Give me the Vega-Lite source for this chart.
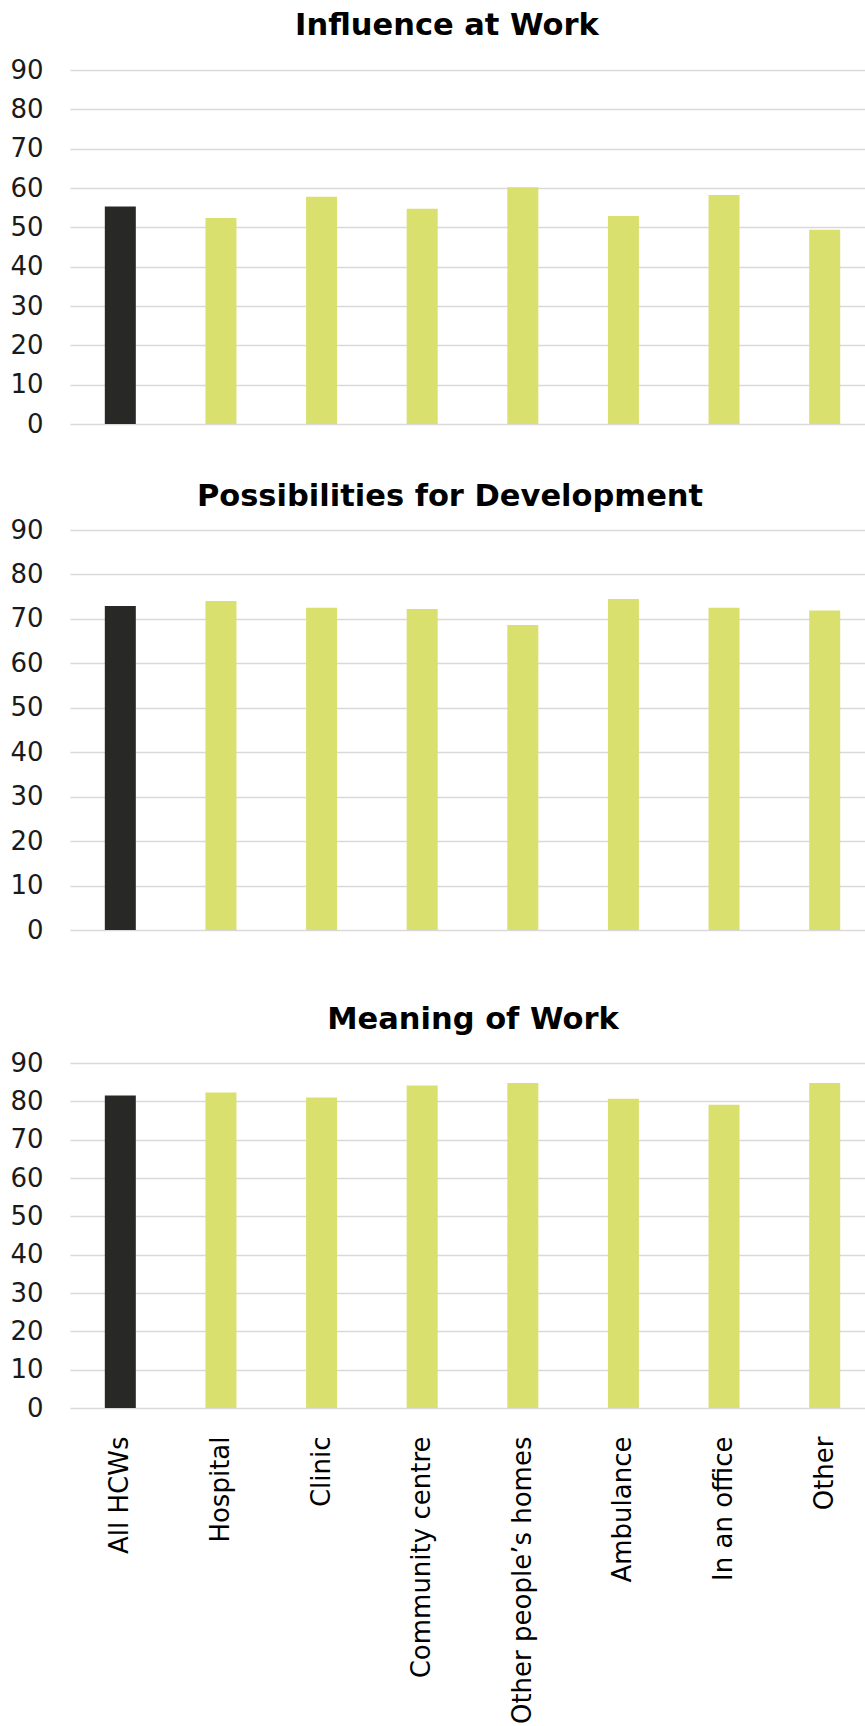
{
  "$schema": "https://vega.github.io/schema/vega-lite/v6.json",
  "background": "white",
  "padding": {"left": 9, "top": 11, "right": 0, "bottom": 0},
  "spacing": 20,
  "config": {
    "font": "DejaVu Sans",
    "view": {"stroke": null},
    "axisY": {
      "labelFont": "DejaVu Sans",
      "labelFontSize": 26,
      "labelColor": "#1a1a1a",
      "labelPadding": 27,
      "ticks": false,
      "tickSize": 0,
      "domain": false,
      "grid": true,
      "gridColor": "#d9d9d9",
      "gridWidth": 1.5,
      "title": null
    },
    "title": {
      "font": "DejaVu Sans",
      "fontSize": 30.5,
      "fontWeight": "bold",
      "color": "#000000",
      "anchor": "middle",
      "baseline": "alphabetic"
    }
  },
  "datasets": {
    "d": [
      {"panel": "Influence at Work", "category": "All HCWs", "group": "all", "value": 55.3},
      {"panel": "Influence at Work", "category": "Hospital", "group": "loc", "value": 52.4},
      {"panel": "Influence at Work", "category": "Clinic", "group": "loc", "value": 57.8},
      {"panel": "Influence at Work", "category": "Community centre", "group": "loc", "value": 54.7},
      {"panel": "Influence at Work", "category": "Other people’s homes", "group": "loc", "value": 60.2},
      {"panel": "Influence at Work", "category": "Ambulance", "group": "loc", "value": 52.9},
      {"panel": "Influence at Work", "category": "In an office", "group": "loc", "value": 58.2},
      {"panel": "Influence at Work", "category": "Other", "group": "loc", "value": 49.4},
      {"panel": "Possibilities for Development", "category": "All HCWs", "group": "all", "value": 72.9},
      {"panel": "Possibilities for Development", "category": "Hospital", "group": "loc", "value": 74.0},
      {"panel": "Possibilities for Development", "category": "Clinic", "group": "loc", "value": 72.5},
      {"panel": "Possibilities for Development", "category": "Community centre", "group": "loc", "value": 72.2},
      {"panel": "Possibilities for Development", "category": "Other people’s homes", "group": "loc", "value": 68.6},
      {"panel": "Possibilities for Development", "category": "Ambulance", "group": "loc", "value": 74.5},
      {"panel": "Possibilities for Development", "category": "In an office", "group": "loc", "value": 72.5},
      {"panel": "Possibilities for Development", "category": "Other", "group": "loc", "value": 71.9},
      {"panel": "Meaning of Work", "category": "All HCWs", "group": "all", "value": 81.5},
      {"panel": "Meaning of Work", "category": "Hospital", "group": "loc", "value": 82.3},
      {"panel": "Meaning of Work", "category": "Clinic", "group": "loc", "value": 81.0},
      {"panel": "Meaning of Work", "category": "Community centre", "group": "loc", "value": 84.1},
      {"panel": "Meaning of Work", "category": "Other people’s homes", "group": "loc", "value": 84.8},
      {"panel": "Meaning of Work", "category": "Ambulance", "group": "loc", "value": 80.7},
      {"panel": "Meaning of Work", "category": "In an office", "group": "loc", "value": 79.1},
      {"panel": "Meaning of Work", "category": "Other", "group": "loc", "value": 84.8}
    ]
  },
  "vconcat": [
    {
      "data": {"name": "d"},
      "transform": [{"filter": "datum.panel === 'Influence at Work'"}],
      "title": {"text": "Influence at Work", "dx": -25.5, "offset": 15.5},
      "width": 805,
      "height": 354,
      "mark": {"type": "bar", "width": 31},
      "encoding": {
        "x": {
          "field": "category", "type": "nominal", "sort": null,
          "scale": {"paddingInner": 0, "paddingOuter": 0},
          "axis": {"labels": false, "ticks": false, "domain": false, "grid": false, "title": null, "minExtent": 37, "maxExtent": 37}
        },
        "y": {
          "field": "value", "type": "quantitative",
          "scale": {"domain": [0, 90], "nice": false},
          "axis": {"values": [0, 10, 20, 30, 40, 50, 60, 70, 80, 90]}
        },
        "color": {
          "field": "group", "type": "nominal",
          "scale": {"domain": ["all", "loc"], "range": ["#282826", "#d9e06e"]},
          "legend": null
        }
      }
    },
    {
      "data": {"name": "d"},
      "transform": [{"filter": "datum.panel === 'Possibilities for Development'"}],
      "title": {"text": "Possibilities for Development", "dx": -22.5, "offset": 4.7},
      "width": 805,
      "height": 400,
      "mark": {"type": "bar", "width": 31},
      "encoding": {
        "x": {
          "field": "category", "type": "nominal", "sort": null,
          "scale": {"paddingInner": 0, "paddingOuter": 0},
          "axis": {"labels": false, "ticks": false, "domain": false, "grid": false, "title": null, "minExtent": 54, "maxExtent": 54}
        },
        "y": {
          "field": "value", "type": "quantitative",
          "scale": {"domain": [0, 90], "nice": false},
          "axis": {"values": [0, 10, 20, 30, 40, 50, 60, 70, 80, 90]}
        },
        "color": {
          "field": "group", "type": "nominal",
          "scale": {"domain": ["all", "loc"], "range": ["#282826", "#d9e06e"]},
          "legend": null
        }
      }
    },
    {
      "data": {"name": "d"},
      "transform": [{"filter": "datum.panel === 'Meaning of Work'"}],
      "title": {"text": "Meaning of Work", "dx": 0.5, "offset": 15},
      "width": 805,
      "height": 345,
      "mark": {"type": "bar", "width": 31},
      "encoding": {
        "x": {
          "field": "category", "type": "nominal", "sort": null,
          "scale": {"paddingInner": 0, "paddingOuter": 0},
          "axis": {
            "labelAngle": -90, "labelFont": "DejaVu Sans", "labelFontSize": 26, "labelColor": "#000000",
            "labelPadding": 28, "labelLimit": 400, "ticks": false, "tickSize": 0, "domain": false, "grid": false, "title": null
          }
        },
        "y": {
          "field": "value", "type": "quantitative",
          "scale": {"domain": [0, 90], "nice": false},
          "axis": {"values": [0, 10, 20, 30, 40, 50, 60, 70, 80, 90]}
        },
        "color": {
          "field": "group", "type": "nominal",
          "scale": {"domain": ["all", "loc"], "range": ["#282826", "#d9e06e"]},
          "legend": null
        }
      }
    }
  ]
}
